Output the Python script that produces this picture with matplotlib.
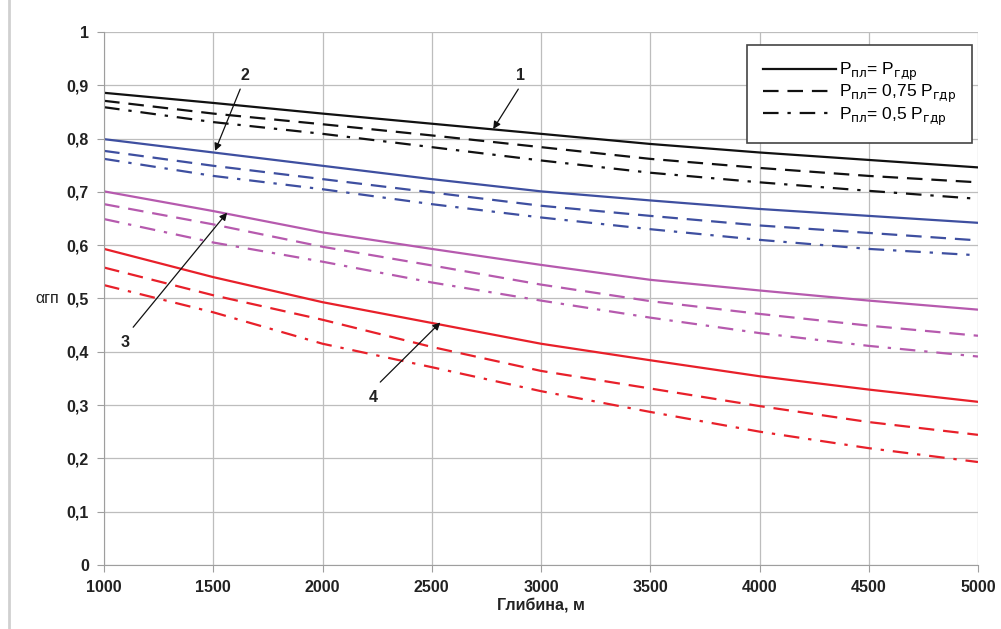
import matplotlib
matplotlib.use('Agg')
import matplotlib.pyplot as plt
from matplotlib.lines import Line2D

# ── Data ─────────────────────────────────────────────────────
depth = [1000, 1500, 2000, 2500, 3000, 3500, 4000, 4500, 5000]

# 1 — black
c1_full = [0.886, 0.867, 0.847, 0.828, 0.809, 0.790, 0.774, 0.760, 0.746]
c1_075  = [0.871, 0.847, 0.827, 0.806, 0.784, 0.762, 0.745, 0.730, 0.718]
c1_05   = [0.859, 0.831, 0.809, 0.784, 0.759, 0.736, 0.718, 0.702, 0.687]
# 2 — blue
c2_full = [0.799, 0.774, 0.749, 0.724, 0.701, 0.684, 0.668, 0.655, 0.642]
c2_075  = [0.777, 0.749, 0.724, 0.699, 0.674, 0.655, 0.637, 0.623, 0.609]
c2_05   = [0.762, 0.730, 0.705, 0.677, 0.652, 0.630, 0.610, 0.593, 0.581]
# 3 — magenta
c3_full = [0.701, 0.664, 0.624, 0.593, 0.563, 0.535, 0.515, 0.496, 0.479]
c3_075  = [0.677, 0.639, 0.597, 0.562, 0.526, 0.495, 0.471, 0.449, 0.430]
c3_05   = [0.649, 0.605, 0.569, 0.530, 0.496, 0.464, 0.435, 0.411, 0.391]
# 4 — red
c4_full = [0.593, 0.540, 0.493, 0.454, 0.415, 0.384, 0.354, 0.329, 0.306]
c4_075  = [0.558, 0.506, 0.460, 0.409, 0.364, 0.331, 0.298, 0.268, 0.244]
c4_05   = [0.525, 0.474, 0.415, 0.371, 0.326, 0.287, 0.250, 0.219, 0.193]

groups = [
    ('#111111', c1_full, c1_075, c1_05),
    ('#3E4FA0', c2_full, c2_075, c2_05),
    ('#B65AAE', c3_full, c3_075, c3_05),
    ('#E8202A', c4_full, c4_075, c4_05),
]

legend_labels = [
    r'P$_{\mathrm{пл}}$= P$_{\mathrm{гдр}}$',
    r'P$_{\mathrm{пл}}$= 0,75 P$_{\mathrm{гдр}}$',
    r'P$_{\mathrm{пл}}$= 0,5 P$_{\mathrm{гдр}}$',
]

yticks = [0, 0.1, 0.2, 0.3, 0.4, 0.5, 0.6, 0.7, 0.8, 0.9, 1.0]
ytick_labels = ['0', '0,1', '0,2', '0,3', '0,4', '0,5', '0,6', '0,7', '0,8', '0,9', '1']
xticks = [1000, 1500, 2000, 2500, 3000, 3500, 4000, 4500, 5000]

DASH = (0, (7, 4))
DASHDOT = (0, (7, 4, 1.5, 4))

plt.rcParams['font.family'] = ['Liberation Sans', 'DejaVu Sans']
plt.rcParams['mathtext.fontset'] = 'dejavusans'

fig = plt.figure(figsize=(10.01, 6.29), dpi=100)
ax = fig.add_axes([0.104, 0.102, 0.873, 0.847])

for color, full, p75, p50 in groups:
    ax.plot(depth, full, color=color, lw=1.6, linestyle='-')
    ax.plot(depth, p75, color=color, lw=1.6, linestyle=DASH)
    ax.plot(depth, p50, color=color, lw=1.6, linestyle=DASHDOT)

ax.set_xlim(1000, 5000)
ax.set_ylim(0, 1)
ax.set_xticks(xticks)
ax.set_xticklabels([str(x) for x in xticks], fontsize=11.5, fontweight='bold', color='#222222')
ax.set_yticks(yticks)
ax.set_yticklabels(ytick_labels, fontsize=11.5, fontweight='bold', color='#222222')
ax.grid(True, color='#bdbdbd', lw=0.9)
ax.set_axisbelow(True)
for side in ['top', 'right']:
    ax.spines[side].set_visible(False)
for side in ['left', 'bottom']:
    ax.spines[side].set_color('#9e9e9e')
ax.tick_params(axis='both', length=5, color='#9e9e9e', pad=6)

ax.set_xlabel('Глибина, м', fontsize=11.5, fontweight='bold', color='#222222', labelpad=2)
ax.set_ylabel('αгп', fontsize=11.5, rotation=0, color='#222222', labelpad=14, va='center')

# ── Curve labels with arrows ─────────────────────────────────
labels = [
    ('1', (2905, 0.918), (2896, 0.893), (2781, 0.818)),
    ('2', (1646, 0.918), (1623, 0.893), (1508, 0.777)),
    ('3', (1096, 0.418), (1133, 0.446), (1563, 0.661)),
    ('4', (2232, 0.315), (2264, 0.343), (2539, 0.455)),
]
for txt, tpos, tail, head in labels:
    ax.text(tpos[0], tpos[1], txt, fontsize=11.5, fontweight='bold', ha='center', va='center', color='#222222')
    ax.annotate('', xy=head, xytext=tail,
                arrowprops=dict(arrowstyle='-|>', color='#111111', lw=0.9,
                                mutation_scale=11, shrinkA=0, shrinkB=0))

# ── Legend ───────────────────────────────────────────────────
handles = [
    Line2D([], [], color='#111111', lw=1.6, linestyle='-'),
    Line2D([], [], color='#111111', lw=1.6, linestyle=DASH),
    Line2D([], [], color='#111111', lw=1.6, linestyle=DASHDOT),
]
leg = ax.legend(handles, legend_labels, loc='upper right', bbox_to_anchor=(0.999, 0.985),
                fontsize=12.5, handlelength=4.2, handletextpad=0.2, labelspacing=0.0,
                borderpad=0.9, fancybox=False, framealpha=1, edgecolor='#444444',
                borderaxespad=0.3)
leg.get_frame().set_linewidth(1.2)

# light frame line at the left edge of the figure
fig.add_artist(Line2D([0.009, 0.009], [0.0, 1.0], transform=fig.transFigure,
                      color='#d0d0d0', lw=2))

plt.savefig('out.png', dpi=100, facecolor='white')
